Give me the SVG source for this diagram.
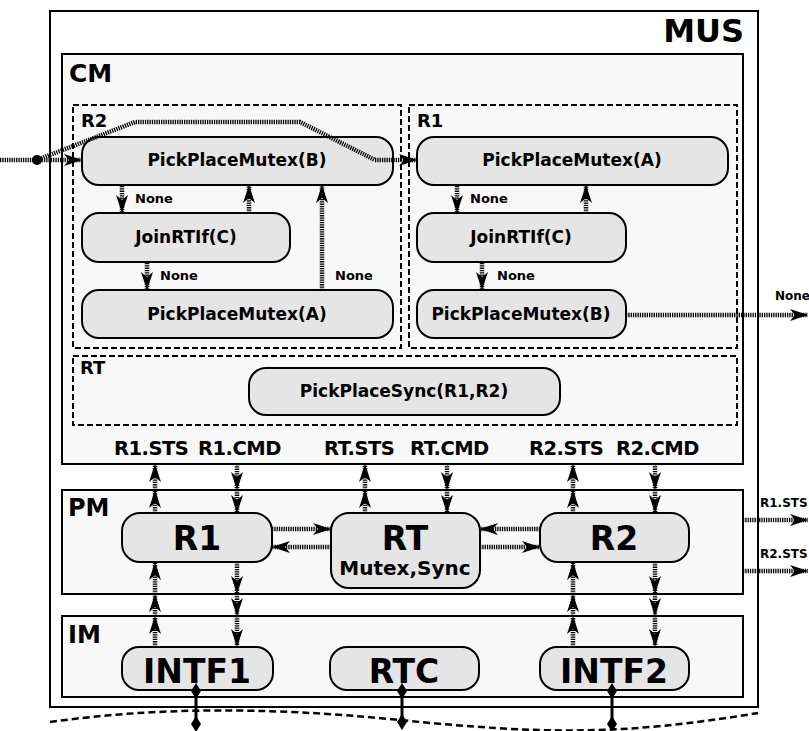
<svg xmlns="http://www.w3.org/2000/svg" width="809" height="731" viewBox="0 0 809 731">
<style>
text{font-family:"DejaVu Sans","Liberation Sans",sans-serif;font-weight:bold;fill:#000}
.box{fill:#f8f8f8;stroke:#000;stroke-width:2}
.reg{fill:none;stroke:#000;stroke-width:2;stroke-dasharray:6 3}
.node{fill:#e5e5e5;stroke:#000;stroke-width:2}
.nt{font-size:17px;text-anchor:middle}
.big{font-size:33px;text-anchor:middle}
.lbl{font-size:13px}
.sig{font-size:19.5px}
.hl{fill:none;stroke:#000;stroke-width:4.5;stroke-dasharray:1.3 1}
.arr{marker-end:url(#ah)}
.dl{fill:none;stroke:#000;stroke-width:3;marker-start:url(#dm);marker-end:url(#dm)}
</style>
<defs>
<marker id="ah" viewBox="0 0 18 12" refX="18" refY="6" markerWidth="18" markerHeight="12" markerUnits="userSpaceOnUse" orient="auto">
<path d="M0,0 L18,6 L0,12 L5,6 z" fill="#000"/>
</marker>
<marker id="dm" viewBox="0 0 16 10" refX="8" refY="5" markerWidth="16" markerHeight="10" markerUnits="userSpaceOnUse" orient="auto">
<path d="M0,5 L8,0 L16,5 L8,10 z" fill="#000"/>
</marker>
</defs>
<rect width="809" height="731" fill="#fff"/>

<g id="MUS">
<rect x="50" y="11" width="708" height="696" fill="#fff" stroke="#000" stroke-width="2"/>
<text x="744" y="42" font-size="32" text-anchor="end">MUS</text>
</g>
<g id="CM">
<rect class="box" x="62" y="54" width="681" height="410"/>
<text x="69" y="82" font-size="25">CM</text>
</g>
<g id="CM-R2">
<rect class="reg" x="73" y="105" width="328" height="243"/>
<text x="81" y="127" font-size="18">R2</text>
</g>
<g id="CM-R1">
<rect class="reg" x="409" y="105" width="328" height="243"/>
<text x="417" y="127" font-size="18">R1</text>
</g>
<g id="CM-RT">
<rect class="reg" x="73" y="356" width="664" height="69"/>
<text x="80" y="374" font-size="18">RT</text>
</g>
<g id="PM">
<rect class="box" x="62" y="490" width="681" height="104"/>
<text x="68" y="516" font-size="24">PM</text>
</g>
<g id="IM">
<rect class="box" x="62" y="616" width="681" height="81"/>
<text x="68" y="643" font-size="24">IM</text>
</g>

<g id="r2-ppm-b">
<rect class="node" x="82" y="137" width="311" height="48" rx="17"/>
<text class="nt" x="237" y="166">PickPlaceMutex(B)</text>
</g>
<g id="r2-join">
<rect class="node" x="82" y="213" width="208" height="49" rx="17"/>
<text class="nt" x="186" y="243">JoinRTIf(C)</text>
</g>
<g id="r2-ppm-a">
<rect class="node" x="82" y="290" width="311" height="48" rx="17"/>
<text class="nt" x="237" y="320">PickPlaceMutex(A)</text>
</g>
<g id="r1-ppm-a">
<rect class="node" x="417" y="137" width="311" height="48" rx="17"/>
<text class="nt" x="572" y="166">PickPlaceMutex(A)</text>
</g>
<g id="r1-join">
<rect class="node" x="417" y="213" width="209" height="49" rx="17"/>
<text class="nt" x="521" y="243">JoinRTIf(C)</text>
</g>
<g id="r1-ppm-b">
<rect class="node" x="417" y="290" width="209" height="48" rx="17"/>
<text class="nt" x="521" y="320">PickPlaceMutex(B)</text>
</g>
<g id="rt-sync">
<rect class="node" x="249" y="368" width="311" height="47" rx="17"/>
<text class="nt" x="404" y="397">PickPlaceSync(R1,R2)</text>
</g>

<g id="pm-r1">
<rect class="node" x="122" y="513" width="150" height="49" rx="18"/>
<text class="big" x="197" y="550">R1</text>
</g>
<g id="pm-rt">
<rect class="node" x="331" y="513" width="149" height="75" rx="18"/>
<text class="big" x="405" y="550">RT</text>
<text x="405" y="575" font-size="20" text-anchor="middle">Mutex,Sync</text>
</g>
<g id="pm-r2">
<rect class="node" x="540" y="513" width="149" height="49" rx="18"/>
<text class="big" x="614" y="550">R2</text>
</g>

<g id="im-intf1">
<rect class="node" x="122" y="647" width="151" height="43" rx="17"/>
<text class="big" x="197" y="683">INTF1</text>
</g>
<g id="im-rtc">
<rect class="node" x="330" y="647" width="149" height="43" rx="17"/>
<text class="big" x="404" y="683">RTC</text>
</g>
<g id="im-intf2">
<rect class="node" x="540" y="647" width="149" height="43" rx="17"/>
<text class="big" x="614" y="683">INTF2</text>
</g>

<g id="signals">
<text class="sig" x="114" y="455" letter-spacing="-0.5">R1.STS</text>
<text class="sig" x="198" y="455" letter-spacing="-0.5">R1.CMD</text>
<text class="sig" x="324" y="455" letter-spacing="-0.5">RT.STS</text>
<text class="sig" x="410" y="455" letter-spacing="-0.5">RT.CMD</text>
<text class="sig" x="529" y="455" letter-spacing="-0.5">R2.STS</text>
<text class="sig" x="616" y="455" letter-spacing="-0.5">R2.CMD</text>
</g>

<g id="connectors">
<line class="hl" x1="0" y1="160" x2="37" y2="160"/>
<circle cx="37" cy="160" r="5" fill="#000"/>
<line class="hl arr" x1="37" y1="160" x2="82" y2="160"/>
<polyline class="hl arr" points="37,160 135,122 300,122 375,160 417,160"/>
<line class="hl arr" x1="122" y1="186" x2="122" y2="213"/>
<text class="lbl" x="135" y="203">None</text>
<line class="hl arr" x1="249" y1="213" x2="249" y2="185"/>
<line class="hl arr" x1="147" y1="263" x2="147" y2="290"/>
<text class="lbl" x="160" y="280">None</text>
<line class="hl arr" x1="322" y1="290" x2="322" y2="185"/>
<text class="lbl" x="335" y="280">None</text>
<line class="hl arr" x1="457" y1="186" x2="457" y2="213"/>
<text class="lbl" x="470" y="203">None</text>
<line class="hl arr" x1="586" y1="213" x2="586" y2="185"/>
<line class="hl arr" x1="482" y1="263" x2="482" y2="290"/>
<text class="lbl" x="497" y="280">None</text>
<line class="hl arr" x1="626" y1="315" x2="808" y2="315"/>
<text x="775" y="300" font-size="12">None</text>

<line class="hl arr" x1="155" y1="490" x2="155" y2="464"/>
<line class="hl arr" x1="155" y1="513" x2="155" y2="490"/>
<line class="hl arr" x1="237" y1="464" x2="237" y2="490"/>
<line class="hl arr" x1="237" y1="490" x2="237" y2="513"/>
<line class="hl arr" x1="365" y1="490" x2="365" y2="464"/>
<line class="hl arr" x1="365" y1="513" x2="365" y2="490"/>
<line class="hl arr" x1="447" y1="464" x2="447" y2="490"/>
<line class="hl arr" x1="447" y1="490" x2="447" y2="513"/>
<line class="hl arr" x1="573" y1="490" x2="573" y2="464"/>
<line class="hl arr" x1="573" y1="513" x2="573" y2="490"/>
<line class="hl arr" x1="655" y1="464" x2="655" y2="490"/>
<line class="hl arr" x1="655" y1="490" x2="655" y2="513"/>

<line class="hl arr" x1="272" y1="529" x2="331" y2="529"/>
<line class="hl arr" x1="331" y1="547" x2="272" y2="547"/>
<line class="hl arr" x1="540" y1="529" x2="480" y2="529"/>
<line class="hl arr" x1="480" y1="547" x2="540" y2="547"/>
<line class="hl arr" x1="743" y1="520" x2="808" y2="520"/>
<line class="hl arr" x1="743" y1="571" x2="808" y2="571"/>
<text x="760" y="507" font-size="12">R1.STS</text>
<text x="760" y="558" font-size="12">R2.STS</text>

<line class="hl arr" x1="155" y1="594" x2="155" y2="562"/>
<line class="hl arr" x1="155" y1="616" x2="155" y2="594"/>
<line class="hl arr" x1="155" y1="647" x2="155" y2="616"/>
<line class="hl arr" x1="237" y1="562" x2="237" y2="594"/>
<line class="hl arr" x1="237" y1="594" x2="237" y2="616"/>
<line class="hl arr" x1="237" y1="616" x2="237" y2="647"/>
<line class="hl arr" x1="573" y1="594" x2="573" y2="562"/>
<line class="hl arr" x1="573" y1="616" x2="573" y2="594"/>
<line class="hl arr" x1="573" y1="647" x2="573" y2="616"/>
<line class="hl arr" x1="655" y1="562" x2="655" y2="594"/>
<line class="hl arr" x1="655" y1="594" x2="655" y2="616"/>
<line class="hl arr" x1="655" y1="616" x2="655" y2="647"/>

<path d="M50,722 C150,708 260,706 400,720 S620,736 758,713" fill="none" stroke="#000" stroke-width="2.5" stroke-dasharray="7 4"/>
<line class="dl" x1="196" y1="691" x2="196" y2="724"/>
<line class="dl" x1="402" y1="691" x2="402" y2="722"/>
<line class="dl" x1="612" y1="691" x2="612" y2="724"/>
</g>
</svg>
